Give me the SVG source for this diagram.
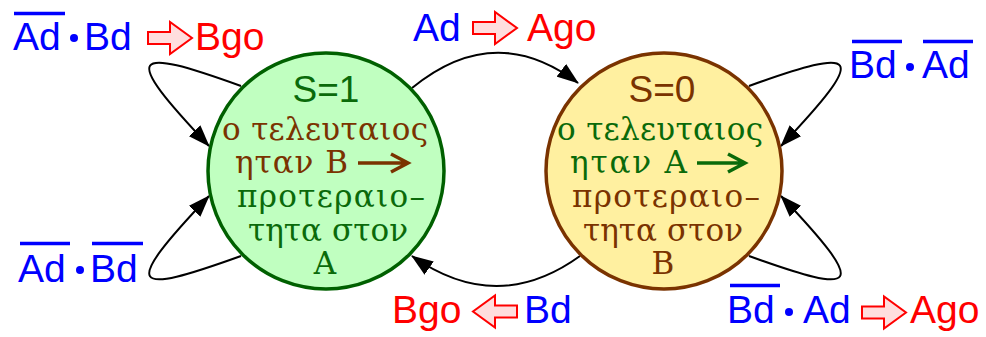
<svg xmlns="http://www.w3.org/2000/svg" width="986" height="337" viewBox="0 0 986 337">
<style>
.lbl{font-family:"Liberation Sans",Arial,sans-serif;font-size:39px}
.blue{fill:#0000ff}
.red{fill:#ff0000}
.ov{stroke:#0000ff;stroke-width:3.4}
.dot{fill:#0000ff}
.harrow{fill:#ffdede;stroke:#ff0000;stroke-width:2}
.st{font-family:"Liberation Sans",Arial,sans-serif;font-size:37px;text-anchor:middle}
.gr{font-family:"DejaVu Serif","Liberation Serif",serif;font-size:31px}
.g{fill:#0a6a0a}
.b{fill:#7a3300}
.conn{fill:none;stroke:#000;stroke-width:2}
</style>
<defs>
<marker id="ah" markerWidth="22" markerHeight="16" refX="21" refY="8" orient="auto" markerUnits="userSpaceOnUse">
<path d="M0,0 L22,8 L0,16 Z" fill="#000"/>
</marker>
<path id="hr" class="harrow" d="M0,-6 H22 V-16 L44,0 L22,16 V6 H0 Z"/>
</defs>
<g id="connectors">
<path class="conn" d="M241,86 C130,46 120,52 209,146" marker-end="url(#ah)"/>
<path class="conn" d="M241,256 C130,296 120,290 209,196" marker-end="url(#ah)"/>
<path class="conn" d="M749,86 C860,46 870,52 781,146" marker-end="url(#ah)"/>
<path class="conn" d="M749,256 C860,296 870,290 781,196" marker-end="url(#ah)"/>
<path class="conn" d="M412,88 Q495,20 578,83" marker-end="url(#ah)"/>
<path class="conn" d="M580,256 Q497,316 412,256" marker-end="url(#ah)"/>
</g>
<g id="s1">
<circle cx="326" cy="171" r="118" fill="#c0ffc0" stroke="#006000" stroke-width="3.5"/>
<text class="st g" x="326" y="102">S=1</text>
<text class="gr b" x="222" y="140" textLength="206">ο τελευταιος</text>
<text class="gr b" x="235" y="173" textLength="113">ηταν B</text>
<path d="M358,163 H407 M391,154 L408,163 L391,172" fill="none" stroke="#7a3300" stroke-width="3.5"/>
<text class="gr g" x="237" y="207" textLength="188">προτεραιο–</text>
<text class="gr g" x="248" y="241" textLength="160">τητα στον</text>
<text class="gr g" x="325" y="274" text-anchor="middle">A</text>
</g>
<g id="s0">
<circle cx="664" cy="171" r="118" fill="#fff0a0" stroke="#7a3300" stroke-width="3.5"/>
<text class="st b" x="662" y="102">S=0</text>
<text class="gr g" x="557" y="140" textLength="206">ο τελευταιος</text>
<text class="gr g" x="570" y="173" textLength="117">ηταν A</text>
<path d="M697,163 H744 M728,154 L745,163 L728,172" fill="none" stroke="#0a6a0a" stroke-width="3.5"/>
<text class="gr b" x="572" y="207" textLength="188">προτεραιο–</text>
<text class="gr b" x="583" y="241" textLength="160">τητα στον</text>
<text class="gr b" x="663" y="274" text-anchor="middle">B</text>
</g>
<g id="label-s1-self-top">
<text class="lbl blue" x="13" y="50">Ad</text>
<line class="ov" x1="14" y1="13.5" x2="65" y2="13.5"/>
<circle class="dot" cx="74" cy="38" r="4"/>
<text class="lbl blue" x="84" y="50">Bd</text>
<use href="#hr" x="148" y="38"/>
<text class="lbl red" x="195" y="50">Bgo</text>
</g>
<g id="label-s1-s0">
<text class="lbl blue" x="413" y="41">Ad</text>
<use href="#hr" x="473" y="28"/>
<text class="lbl red" x="527" y="41">Ago</text>
</g>
<g id="label-s0-self-top">
<text class="lbl blue" x="849" y="78">Bd</text>
<line class="ov" x1="852" y1="41.5" x2="902" y2="41.5"/>
<circle class="dot" cx="910" cy="67" r="4"/>
<text class="lbl blue" x="922" y="78">Ad</text>
<line class="ov" x1="923" y1="41.5" x2="973" y2="41.5"/>
</g>
<g id="label-s1-self-bottom">
<text class="lbl blue" x="18" y="282">Ad</text>
<line class="ov" x1="20" y1="243.5" x2="70" y2="243.5"/>
<circle class="dot" cx="80" cy="270" r="4"/>
<text class="lbl blue" x="90" y="282">Bd</text>
<line class="ov" x1="92" y1="243.5" x2="143" y2="243.5"/>
</g>
<g id="label-s0-s1">
<text class="lbl red" x="392" y="323">Bgo</text>
<use href="#hr" transform="translate(517,311.5) scale(-1,1)"/>
<text class="lbl blue" x="524" y="323">Bd</text>
</g>
<g id="label-s0-self-bottom">
<text class="lbl blue" x="727" y="323">Bd</text>
<line class="ov" x1="730" y1="285.5" x2="780" y2="285.5"/>
<circle class="dot" cx="789" cy="312" r="4"/>
<text class="lbl blue" x="803" y="323">Ad</text>
<use href="#hr" x="862" y="312.5"/>
<text class="lbl red" x="910" y="323">Ago</text>
</g>
</svg>
